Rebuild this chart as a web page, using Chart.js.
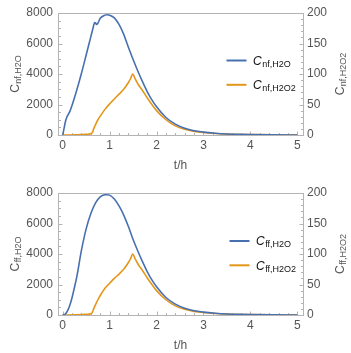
<!DOCTYPE html>
<html>
<head>
<meta charset="utf-8">
<script src="https://cdn.jsdelivr.net/npm/chart.js@4.4.1/dist/chart.umd.min.js"></script>
<style>
html, body { margin: 0; padding: 0; background: #fff; }
.box { position: relative; width: 351px; }
</style>
</head>
<body>
<div class="box" style="height:176px"><canvas id="top"></canvas></div>
<div class="box" style="height:177px"><canvas id="bottom"></canvas></div>
<script>
// Time axis tick labels and value axis tick labels.
const xTicks = [0, 1, 2, 3, 4, 5]
const yLeftTicks = [0, 2000, 4000, 6000, 8000]
const yRightTicks = [0, 50, 100, 150, 200]

// Upper plot, C_nf (H2O on the left axis, H2O2 on the right axis).
const tNfH2o = [0, 0.03, 0.06, 0.09, 0.12, 0.15, 0.2, 0.3, 0.4, 0.5, 0.6, 0.65, 0.68, 0.7, 0.72, 0.75, 0.8, 0.9, 0.95, 1.0, 1.1, 1.2, 1.3, 1.4, 1.5, 1.6, 1.7, 1.8, 1.9, 2.0, 2.2, 2.4, 2.6, 2.8, 3.0, 3.25, 3.5, 3.75, 4.0, 4.5, 5.0]
const nfH2o = [0, 450, 900, 1180, 1350, 1530, 1950, 2950, 4050, 5250, 6450, 7050, 7380, 7350, 7250, 7330, 7650, 7860, 7890, 7860, 7680, 7250, 6600, 5750, 4950, 4200, 3500, 2850, 2300, 1850, 1150, 710, 440, 280, 190, 115, 65, 38, 22, 8, 3]

const tH2o2 = [0, 0.3, 0.5, 0.6, 0.63, 0.66, 0.7, 0.75, 0.8, 0.9, 1.0, 1.1, 1.2, 1.3, 1.4, 1.45, 1.49, 1.55, 1.6, 1.7, 1.8, 1.9, 2.0, 2.2, 2.4, 2.6, 2.8, 3.0, 3.25, 3.5, 3.75, 4.0, 4.5, 5.0]
const nfH2o2 = [0, 0.4, 1.2, 2.2, 4, 10, 17, 25, 31, 42, 51, 59, 67, 75, 86, 93, 100, 91, 84, 73, 61, 50, 40, 25, 15, 9.3, 6, 4, 2.4, 1.5, 0.9, 0.6, 0.2, 0.1]

// Lower plot, C_ff.
const tFfH2o = [0, 0.05, 0.1, 0.15, 0.2, 0.25, 0.3, 0.4, 0.5, 0.6, 0.7, 0.8, 0.9, 0.95, 1.0, 1.1, 1.2, 1.3, 1.4, 1.5, 1.6, 1.7, 1.8, 1.9, 2.0, 2.2, 2.4, 2.6, 2.8, 3.0, 3.25, 3.5, 3.75, 4.0, 4.5, 5.0]
const ffH2o = [0, 40, 250, 620, 1150, 1800, 2500, 4250, 5650, 6650, 7350, 7750, 7880, 7890, 7860, 7600, 7150, 6550, 5800, 4950, 4200, 3500, 2850, 2300, 1850, 1150, 710, 440, 280, 190, 115, 65, 38, 22, 8, 3]
const ffH2o2 = [0, 0.4, 1.2, 2.2, 4, 10, 17, 25, 32, 44, 52, 60, 67, 75, 86, 93, 100, 91, 84, 73, 61, 50, 40, 25, 15, 9.3, 6, 4, 2.4, 1.5, 0.9, 0.6, 0.2, 0.1]

const blue = 'rgb(72,112,176)'
const orange = 'rgb(228,150,26)'
const labelColor = '#555'
const frameColor = '#b4b4b4'
const font = '"Liberation Sans", Arial, sans-serif'

const points = (xs, ys) => xs.map((x, i) => ({ x, y: ys[i] }))

// Text with a subscript, left aligned at (x, y) baseline. Returns the width.
const subText = (ctx, x, y, main, sub, o) => {
	ctx.font = o.main
	ctx.fillText(main, x, y)
	const w = ctx.measureText(main).width
	ctx.font = o.sub
	ctx.fillText(sub, x + w + 0.5, y + o.drop)
	return w + 0.5 + ctx.measureText(sub).width
}

const subWidth = (ctx, main, sub, o) => {
	ctx.font = o.main
	const w = ctx.measureText(main).width
	ctx.font = o.sub
	return w + 0.5 + ctx.measureText(sub).width
}

const framePlugin = {
	id: 'frame',
	beforeDatasetsDraw(chart) {
		const { ctx, chartArea: a, scales } = chart
		ctx.save()
		ctx.strokeStyle = frameColor
		ctx.lineWidth = 1
		ctx.strokeRect(a.left + 0.5, a.top + 0.5, a.right - a.left, a.bottom - a.top)

		const tick = (x1, y1, x2, y2) => {
			ctx.beginPath()
			ctx.moveTo(x1, y1)
			ctx.lineTo(x2, y2)
			ctx.stroke()
		}
		// Inward frame ticks, major and minor.
		for (let i = 0; i <= 25; i++) {
			const px = Math.round(scales.x.getPixelForValue(i / 5)) + 0.5
			tick(px, a.bottom + 0.5, px, a.bottom + 0.5 - (i % 5 === 0 ? 4 : 2.5))
		}
		for (let i = 0; i <= 16; i++) {
			const py = Math.round(scales.y.getPixelForValue(i * 500)) + 0.5
			tick(a.left + 0.5, py, a.left + 0.5 + (i % 4 === 0 ? 4 : 2.5), py)
		}
		for (let i = 0; i <= 20; i++) {
			const py = Math.round(scales.y2.getPixelForValue(i * 10)) + 0.5
			tick(a.right + 0.5, py, a.right + 0.5 - (i % 5 === 0 ? 4 : 2.5), py)
		}
		ctx.restore()
	},
	afterDraw(chart, args, opts) {
		const { ctx, chartArea: a } = chart
		const mid = (a.top + a.bottom) / 2
		const axisFont = { main: `12px ${font}`, sub: `9px ${font}`, drop: 2 }
		ctx.save()
		ctx.fillStyle = labelColor
		ctx.textBaseline = 'alphabetic'
		ctx.textAlign = 'left'

		// x title
		ctx.font = `12px ${font}`
		ctx.textAlign = 'center'
		ctx.fillText('t/h', (a.left + a.right) / 2, a.bottom + 33.5)
		ctx.textAlign = 'left'

		// rotated axis titles
		const rotated = (x, sub) => {
			const w = subWidth(ctx, 'C', sub, axisFont)
			ctx.save()
			ctx.translate(x, mid)
			ctx.rotate(-Math.PI / 2)
			subText(ctx, -w / 2, 0, 'C', sub, axisFont)
			ctx.restore()
		}
		rotated(19, opts.leftSub)
		rotated(344, opts.rightSub)

		// legend
		const legendFont = { main: `italic 12px ${font}`, sub: `9px ${font}`, drop: 2 }
		opts.legend.forEach((item, i) => {
			const y = a.top + opts.legendTop + i * 24.3
			ctx.strokeStyle = item.color
			ctx.lineWidth = 2
			ctx.beginPath()
			ctx.moveTo(a.right - opts.legendRight, y)
			ctx.lineTo(a.right - opts.legendRight + 20, y)
			ctx.stroke()
			ctx.fillStyle = '#111'
			subText(ctx, a.right - opts.legendRight + 26.5, y + 4.3, 'C', item.sub, legendFont)
		})
		ctx.restore()
	},
}

const makeChart = (id, cfg) => new Chart(document.getElementById(id), {
	type: 'line',
	data: {
		datasets: [
			{ data: points(cfg.tH2o, cfg.h2o), borderColor: blue, yAxisID: 'y' },
			{ data: points(tH2o2, cfg.h2o2), borderColor: orange, yAxisID: 'y2' },
		],
	},
	options: {
		responsive: true,
		maintainAspectRatio: false,
		animation: false,
		events: [],
		layout: { padding: { top: cfg.top, left: 0, right: 0, bottom: 0 } },
		elements: {
			point: { radius: 0 },
			line: { borderWidth: 1.6, cubicInterpolationMode: 'monotone', fill: false },
		},
		scales: {
			x: {
				type: 'linear',
				min: -0.1,
				max: 5.12,
				afterBuildTicks: scale => { scale.ticks = xTicks.map(value => ({ value })) },
				afterFit: scale => { scale.height = cfg.xHeight },
				grid: { display: false, drawTicks: false },
				border: { display: false },
				ticks: { padding: 3, color: labelColor, font: { family: font, size: 12 }, callback: v => String(v) },
			},
			y: {
				position: 'left',
				min: 0,
				max: 8000,
				afterBuildTicks: scale => { scale.ticks = yLeftTicks.map(value => ({ value })) },
				afterFit: scale => { scale.width = 58 },
				grid: { display: false, drawTicks: false },
				border: { display: false },
				ticks: { padding: 5, color: labelColor, font: { family: font, size: 12 }, callback: v => String(v) },
			},
			y2: {
				position: 'right',
				min: 0,
				max: 200,
				afterBuildTicks: scale => { scale.ticks = yRightTicks.map(value => ({ value })) },
				afterFit: scale => { scale.width = 48 },
				grid: { display: false, drawTicks: false },
				border: { display: false },
				ticks: { padding: 4, color: labelColor, font: { family: font, size: 12 }, callback: v => String(v) },
			},
		},
		plugins: {
			legend: { display: false },
			tooltip: { enabled: false },
			frame: {
				leftSub: cfg.leftSub,
				rightSub: cfg.rightSub,
				legendTop: cfg.legendTop,
				legendRight: cfg.legendRight,
				legend: [
					{ color: blue, sub: cfg.leftSub },
					{ color: orange, sub: cfg.rightSub },
				],
			},
		},
	},
	plugins: [framePlugin],
})

makeChart('top', {
	tH2o: tNfH2o, h2o: nfH2o, h2o2: nfH2o2,
	top: 13, xHeight: 41,
	leftSub: 'nf,H2O', rightSub: 'nf,H2O2',
	legendTop: 47.5, legendRight: 76.5,
})

makeChart('bottom', {
	tH2o: tFfH2o, h2o: ffH2o, h2o2: ffH2o2,
	top: 17, xHeight: 38,
	leftSub: 'ff,H2O', rightSub: 'ff,H2O2',
	legendTop: 48, legendRight: 73.5,
})
</script>
</body>
</html>
